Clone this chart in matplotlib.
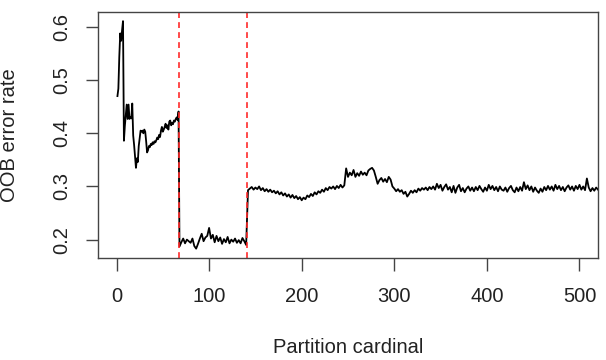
import numpy as np
import matplotlib
matplotlib.use('Agg')
import matplotlib.pyplot as plt

plt.rcParams['font.family'] = ['Liberation Sans', 'DejaVu Sans']

# OOB error rate by partition cardinal
# first block: one value per cardinal, 1..67
x_first = np.arange(1, 68)
oob_first = [
    0.470, 0.484, 0.544, 0.588, 0.574, 0.594, 0.611, 0.386, 0.414, 0.434,
    0.454, 0.427, 0.454, 0.427, 0.430, 0.428, 0.456, 0.396, 0.378, 0.356,
    0.335, 0.353, 0.346, 0.376, 0.390, 0.405, 0.403, 0.405, 0.400, 0.407,
    0.403, 0.385, 0.364, 0.368, 0.376, 0.374, 0.380, 0.378, 0.383, 0.380,
    0.385, 0.383, 0.387, 0.392, 0.389, 0.397, 0.393, 0.405, 0.412, 0.403,
    0.407, 0.412, 0.418, 0.410, 0.415, 0.407, 0.422, 0.424, 0.415, 0.420,
    0.417, 0.424, 0.422, 0.427, 0.430, 0.425, 0.441,
]

# second block: every 2nd cardinal, 68..140
x_second = np.arange(68, 141, 2)
oob_second = [
    0.187, 0.195, 0.202, 0.193, 0.200, 0.197, 0.194, 0.202, 0.188, 0.183,
    0.192, 0.202, 0.211, 0.197, 0.204, 0.207, 0.222, 0.202, 0.209, 0.195,
    0.207, 0.197, 0.204, 0.192, 0.201, 0.195, 0.205, 0.193, 0.200, 0.196,
    0.202, 0.194, 0.199, 0.193, 0.203, 0.197, 0.190,
]

# third block: every 2nd cardinal, 142..520
x_third = np.arange(142, 521, 2)
oob_third = [
    # 142-170
    0.293, 0.296, 0.299, 0.294, 0.298, 0.295, 0.300, 0.293, 0.297, 0.291,
    0.295, 0.290, 0.294, 0.289, 0.292,
    # 172-200
    0.287, 0.291, 0.285, 0.289, 0.283, 0.287, 0.281, 0.285, 0.279, 0.284,
    0.278, 0.282, 0.276, 0.280, 0.274,
    # 202-230
    0.279, 0.276, 0.283, 0.280, 0.286, 0.282, 0.289, 0.285, 0.291, 0.288,
    0.294, 0.290, 0.297, 0.293, 0.299,
    # 232-248
    0.296, 0.300, 0.295, 0.301, 0.297, 0.303, 0.298, 0.302, 0.334,
    # 250-280
    0.318, 0.326, 0.321, 0.331, 0.318, 0.325, 0.320, 0.328, 0.322, 0.326,
    0.321, 0.330, 0.333, 0.335, 0.330, 0.318,
    # 282-300
    0.305, 0.312, 0.316, 0.309, 0.314, 0.308, 0.318, 0.313, 0.300, 0.296,
    # 302-340
    0.291, 0.295, 0.290, 0.293, 0.286, 0.290, 0.281, 0.286, 0.292, 0.288,
    0.293, 0.289, 0.296, 0.292, 0.297, 0.294, 0.298, 0.293, 0.299, 0.295,
    # 342-520
    0.300, 0.294, 0.305, 0.297, 0.303, 0.292, 0.299, 0.304, 0.294, 0.299,
    0.289, 0.301, 0.288, 0.298, 0.303, 0.291, 0.297, 0.289, 0.296, 0.300,
    0.292, 0.298, 0.291, 0.299, 0.293, 0.301, 0.295, 0.290, 0.298, 0.292,
    0.303, 0.295, 0.301, 0.293, 0.299, 0.291, 0.300, 0.294, 0.292, 0.298,
    0.290, 0.297, 0.301, 0.293, 0.289, 0.298, 0.291, 0.299, 0.292, 0.308,
    0.295, 0.302, 0.293, 0.300, 0.290, 0.298, 0.292, 0.288, 0.296, 0.290,
    0.299, 0.293, 0.301, 0.294, 0.300, 0.292, 0.303, 0.295, 0.301, 0.293,
    0.299, 0.291, 0.298, 0.302, 0.294, 0.300, 0.292, 0.301, 0.295, 0.303,
    0.294, 0.300, 0.293, 0.315, 0.298, 0.291, 0.297, 0.292, 0.298, 0.294,
]

# partition breaks (red dashed lines)
breaks = [67, 141]

x_ticks = [0, 100, 200, 300, 400, 500]
y_ticks = [0.2, 0.3, 0.4, 0.5, 0.6]

x_all = np.concatenate([x_first, x_second, x_third])
oob_all = np.concatenate([oob_first, oob_second, oob_third])

fig = plt.figure(figsize=(6.06, 3.6), dpi=100)
ax = fig.add_axes([98 / 606, 1 - 258 / 360, 500 / 606, 246 / 360])

ax.plot(x_all, oob_all, color='black', lw=1.3)
for b in breaks:
    ax.axvline(b, color='#ff2a2a', lw=1.2, dashes=(3.5, 2.5))

ax.set_xlim(-20, 520)
ax.set_ylim(0.1654, 0.6282)
ax.set_xticks(x_ticks)
ax.set_yticks(y_ticks)
ax.set_yticklabels([f'{v:.1f}' for v in y_ticks])

for s in ax.spines.values():
    s.set_color('#444444')
    s.set_linewidth(1.0)

ax.tick_params(axis='both', length=9, width=1.0, color='#444444',
               labelsize=14.5, labelcolor='#222222')
ax.tick_params(axis='x', pad=12)
ax.tick_params(axis='y', pad=10)
for t in ax.get_yticklabels():
    t.set_rotation(90)
    t.set_va('center')

ax.set_xlabel('Partition cardinal', fontsize=14.5, color='#222222')
ylab = ax.set_ylabel('OOB error rate', fontsize=14.5, color='#222222')
ylab.set_va('center')
ax.xaxis.set_label_coords(0.5, -0.325)
ax.yaxis.set_label_coords(-0.176, 0.5)

fig.savefig('out.png', dpi=100)
